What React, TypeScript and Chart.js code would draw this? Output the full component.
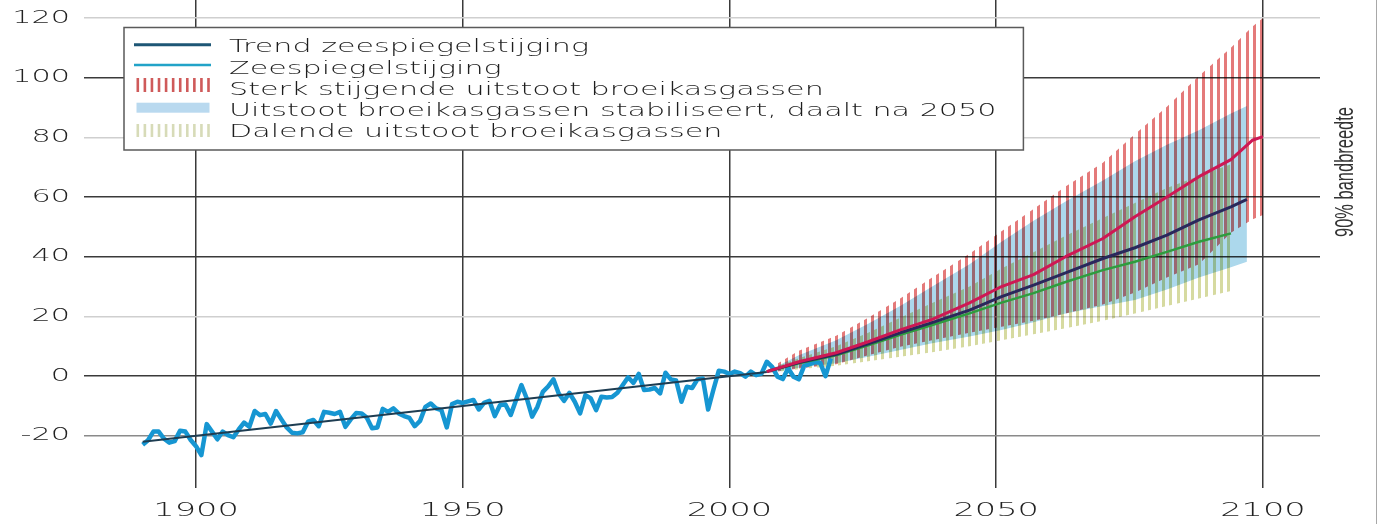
import React, { useEffect, useRef } from 'react';
import { Chart, registerables } from 'chart.js';

// ---------- data ----------
const xTickValues = [1900, 1950, 2000, 2050, 2100];
const yTickValues = [-20, 0, 20, 40, 60, 80, 100, 120];

const obsYears = [
  1890, 1891, 1892, 1893, 1894, 1895, 1896, 1897, 1898, 1899,
  1900, 1901, 1902, 1903, 1904, 1905, 1906, 1907, 1908, 1909,
  1910, 1911, 1912, 1913, 1914, 1915, 1916, 1917, 1918, 1919,
  1920, 1921, 1922, 1923, 1924, 1925, 1926, 1927, 1928, 1929,
  1930, 1931, 1932, 1933, 1934, 1935, 1936, 1937, 1938, 1939,
  1940, 1941, 1942, 1943, 1944, 1945, 1946, 1947, 1948, 1949,
  1950, 1951, 1952, 1953, 1954, 1955, 1956, 1957, 1958, 1959,
  1960, 1961, 1962, 1963, 1964, 1965, 1966, 1967, 1968, 1969,
  1970, 1971, 1972, 1973, 1974, 1975, 1976, 1977, 1978, 1979,
  1980, 1981, 1982, 1983, 1984, 1985, 1986, 1987, 1988, 1989,
  1990, 1991, 1992, 1993, 1994, 1995, 1996, 1997, 1998, 1999,
  2000, 2001, 2002, 2003, 2004, 2005, 2006, 2007, 2008, 2009,
  2010, 2011, 2012, 2013, 2014, 2015, 2016, 2017, 2018, 2019,
];
const obsValues = [
  -23, -21.5, -18.6, -18.6, -21, -22.3, -21.8, -18.3, -18.6, -21.4,
  -23.5, -26.5, -16.1, -18.6, -21.2, -18.6, -19.8, -20.5, -17.9, -15.6,
  -17, -11.7, -13.1, -12.7, -15.9, -11.7, -14.5, -17.2, -19, -19.2,
  -18.8, -15.3, -14.7, -16.8, -12, -12.3, -12.7, -12, -17, -14.5,
  -12.4, -12.5, -13.9, -17.5, -17.2, -11, -12, -10.8, -12.5, -13.4,
  -14, -16.8, -15, -10.3, -9.2, -10.8, -11.4, -17.2, -9.4, -8.6,
  -9, -8.5, -8, -11.2, -9, -8.3, -13.4, -9.7, -9.5, -13,
  -8, -3, -7.5, -13.6, -10.3, -5.3, -3.5, -1.1, -5.9, -8.3,
  -5.6, -8.6, -12.5, -6.4, -7.5, -11.4, -6.9, -7.2, -7, -5.6,
  -3, -0.4, -2.3, 0.7, -4.7, -4.5, -4, -5.8, 1.1, -1.1,
  -1.5, -8.6, -3.6, -4, -1.1, -0.8, -11.2, -4.5, 1.8, 1.5,
  0.7, 1.5, 1.0, -0.2, 1.5, 0.3, 0.8, 4.8, 3.1, -0.2,
  -1.0, 2.6, -0.2, -1.1, 3.4, 4.0, 4.7, 4.5, 0, 5.9,
];

const trendYears = [1890, 2007];
const trendValues = [-22, 1.4];

// Sterk stijgende uitstoot (high scenario)
const highYears = [2007, 2013, 2020, 2026, 2032, 2038, 2045, 2051, 2057, 2063, 2070, 2076, 2082, 2088, 2094, 2098, 2100];
const highMid = [1.5, 4.8, 7.8, 11.5, 15.5, 19, 24.5, 30, 34, 40, 46.1, 53.4, 60, 66.8, 72.5, 79, 80.2];
const highUpper = [2, 8.5, 13.5, 19.5, 26, 33, 41, 48.5, 56, 63.5, 71.5, 81, 90.2, 100.5, 110, 117, 120];
const highLower = [1, 2.5, 4, 7, 9.8, 12, 14.5, 16.5, 18.5, 21, 24, 28, 33, 37.5, 48, 52.5, 54];

// Uitstoot stabiliseert (middle scenario)
const midYears = [2007, 2013, 2020, 2026, 2032, 2038, 2045, 2051, 2057, 2063, 2070, 2076, 2082, 2088, 2094, 2097];
const midMid = [1.5, 4.5, 7.3, 10.8, 14.5, 17.9, 22.1, 26.6, 30.5, 34.6, 39.4, 43, 47.2, 52.3, 56.7, 59.2];
const midUpper = [1.5, 7, 12, 17.5, 23.5, 30, 37.5, 45, 52, 58.5, 65.5, 72, 77.5, 82.4, 88, 90.5];
const midLower = [1, 2.8, 4.3, 6.5, 8.7, 11, 13.3, 15.4, 18, 21, 23.5, 25.5, 29, 33, 36.5, 38.3];

// Dalende uitstoot (low scenario)
const lowYears = [2007, 2013, 2020, 2026, 2032, 2038, 2045, 2051, 2057, 2063, 2070, 2076, 2082, 2088, 2094];
const lowMid = [1.5, 4.3, 7, 10.3, 13.8, 17.1, 21, 24.6, 27.8, 31.5, 35.5, 38.3, 41.6, 45, 47.8];
const lowUpper = [2, 6, 10, 14.5, 19.5, 24.5, 30, 36, 41.5, 47, 53, 58, 63, 67, 71];
const lowLower = [1, 2.3, 3.5, 5, 6.5, 8, 10, 12, 14, 16, 18.5, 21, 23.5, 26, 28.5];

const legendLabels = [
  'Trend zeespiegelstijging',
  'Zeespiegelstijging',
  'Sterk stijgende uitstoot broeikasgassen',
  'Uitstoot broeikasgassen stabiliseert, daalt na 2050',
  'Dalende uitstoot broeikasgassen',
];
const sideLabel = '90% bandbreedte';

// ---------- helpers ----------
const pts = (xs: number[], ys: number[]) => xs.map((x, i) => ({ x, y: ys[i] }));

const TICK_STRETCH = 1.68;
const TEXT_FONT = '"DejaVu Sans"';

const blendPlugin = {
  id: 'blendMode',
  beforeDatasetDraw(chart: any, args: any) {
    const ds = chart.data.datasets[args.index];
    if (ds && ds.blend) chart.ctx.globalCompositeOperation = ds.blend;
  },
  afterDatasetDraw(chart: any) {
    chart.ctx.globalCompositeOperation = 'source-over';
  },
};

Chart.register(blendPlugin);
Chart.register(...registerables);

function makeStripes(ctx: CanvasRenderingContext2D, color: string, offset: number, w: number) {
  const c = document.createElement('canvas');
  c.width = 36;
  c.height = 8;
  const g = c.getContext('2d')!;
  g.fillStyle = color;
  [0, 7, 14, 22, 29].forEach((p) => {
    const x = (p + offset) % 36;
    g.fillRect(x, 0, w, 8);
    if (x + w > 36) g.fillRect(x - 36, 0, w, 8);
  });
  return ctx.createPattern(c, 'repeat')!;
}

const gridShade: Record<number, string> = {
  120: '#cfcfcf', 100: '#3a3a3a', 80: '#cfcfcf', 60: '#3a3a3a',
  40: '#3a3a3a', 20: '#cfcfcf', 0: '#3a3a3a', [-20]: '#8a8a8a',
};

const overlayPlugin = {
  id: 'overlay',
  afterDraw(chart: any) {
    const ctx = chart.ctx as any;
    ctx.save();
    ctx.globalCompositeOperation = 'source-over';
    // legend
    ctx.font = `200 17px ${TEXT_FONT}`;
    ctx.__sx = 1;
    const stretch = 360 / ctx.measureText(legendLabels[0]).width;
    const maxW = Math.max(...legendLabels.map((l) => ctx.measureText(l).width)) * stretch;
    const L = 124, T = 27.5, B = 150;
    const textX = 229;
    const R = textX + maxW + 27;
    ctx.fillStyle = '#ffffff';
    ctx.fillRect(L, T, R - L, B - T);
    ctx.strokeStyle = '#5a5a5a';
    ctx.lineWidth = 1.5;
    ctx.strokeRect(L, T, R - L, B - T);

    const baselines = [52, 73.5, 95, 116, 137.3];
    // samples
    ctx.lineCap = 'butt';
    ctx.strokeStyle = '#1d5675';
    ctx.lineWidth = 3;
    ctx.beginPath(); ctx.moveTo(134, 44.7); ctx.lineTo(211, 44.7); ctx.stroke();
    ctx.strokeStyle = '#22a3c8';
    ctx.lineWidth = 2.5;
    ctx.beginPath(); ctx.moveTo(134, 65); ctx.lineTo(211, 65); ctx.stroke();
    ctx.fillStyle = '#cf5a5a';
    for (let i = 0; i < 11; i++) ctx.fillRect(136.5 + i * 7.07, 78, 2.6, 14);
    ctx.fillStyle = '#b9d9ef';
    ctx.fillRect(136.5, 102.7, 73, 10);
    ctx.fillStyle = '#d7dbb8';
    for (let i = 0; i < 11; i++) ctx.fillRect(136.5 + i * 7.07, 124, 2.6, 13);

    ctx.fillStyle = '#1e1e1e';
    ctx.textAlign = 'left';
    ctx.textBaseline = 'alphabetic';
    ctx.__sx = stretch;
    legendLabels.forEach((l, i) => ctx.fillText(l, textX, baselines[i]));

    // side label
    ctx.__sx = 1;
    ctx.font = '26px "Liberation Sans"';
    const sw = ctx.measureText(sideLabel).width;
    ctx.translate(1353, 172);
    ctx.rotate(-Math.PI / 2);
    ctx.scale(130 / sw, 1);
    ctx.textAlign = 'center';
    ctx.fillStyle = '#333';
    ctx.fillText(sideLabel, 0, 0);
    ctx.restore();

    // frame line at the right edge
    ctx.save();
    ctx.strokeStyle = '#a8a8a8';
    ctx.lineWidth = 1;
    ctx.beginPath(); ctx.moveTo(1376.5, 0); ctx.lineTo(1376.5, 524); ctx.stroke();
    ctx.restore();
    ctx.__sx = TICK_STRETCH;
  },
};

export default function App() {
  const ref = useRef<HTMLCanvasElement>(null);

  useEffect(() => {
    const canvas = ref.current!;
    const ctx = canvas.getContext('2d')! as any;
    if (!ctx.__patched) {
      const rawFill = ctx.fillText.bind(ctx);
      ctx.fillText = (t: string, x: number, y: number, mw?: number) => {
        const s = ctx.__sx ?? 1;
        if (s === 1) {
          if (mw === undefined) rawFill(t, x, y); else rawFill(t, x, y, mw);
          return;
        }
        ctx.save();
        ctx.translate(x, y);
        ctx.scale(s, 1);
        rawFill(t, 0, 0);
        ctx.restore();
      };
      ctx.__patched = true;
    }
    ctx.__sx = TICK_STRETCH;

    const redPattern = makeStripes(ctx, 'rgb(228,122,122)', 0, 3);
    const greenPattern = makeStripes(ctx, 'rgb(214,218,160)', 3, 3);

    const lineBase = { pointRadius: 0, tension: 0, fill: false, borderJoinStyle: 'round' as const };
    const bandBase = { pointRadius: 0, tension: 0, borderWidth: 0, borderColor: 'rgba(0,0,0,0)' };

    const chart = new Chart(ctx, {
      type: 'line',
      data: {
        datasets: [
          { ...lineBase, label: 'Sterk stijgend', data: pts(highYears, highMid), borderColor: 'rgb(206,24,84)', borderWidth: 3, order: 1 },
          { ...lineBase, label: 'Stabiliseert', data: pts(midYears, midMid), borderColor: 'rgb(42,40,92)', borderWidth: 3, order: 2 },
          { ...lineBase, label: 'Dalend', data: pts(lowYears, lowMid), borderColor: 'rgb(46,156,62)', borderWidth: 2.5, order: 3 },
          { ...lineBase, label: legendLabels[0], data: pts(trendYears, trendValues), borderColor: '#1e3d52', borderWidth: 2, order: 4 },
          { ...lineBase, label: legendLabels[1], data: pts(obsYears, obsValues), borderColor: 'rgb(22,150,210)', borderWidth: 4.5, order: 5 },
          { ...bandBase, label: 'high upper', data: pts(highYears, highUpper), fill: 6, backgroundColor: redPattern, blend: 'multiply', order: 8 } as any,
          { ...bandBase, label: 'high lower', data: pts(highYears, highLower), fill: false, order: 8 },
          { ...bandBase, label: 'mid upper', data: pts(midYears, midUpper), fill: 8, backgroundColor: 'rgb(172,216,236)', blend: 'multiply', order: 9 } as any,
          { ...bandBase, label: 'mid lower', data: pts(midYears, midLower), fill: false, order: 9 },
          { ...bandBase, label: 'low upper', data: pts(lowYears, lowUpper), fill: 10, backgroundColor: greenPattern, blend: 'multiply', order: 10 } as any,
          { ...bandBase, label: 'low lower', data: pts(lowYears, lowLower), fill: false, order: 10 },
        ],
      },
      options: {
        responsive: false,
        animation: false,
        devicePixelRatio: 1,
        layout: { padding: { left: 0, right: 61, top: 0, bottom: 0 } },
        plugins: {
          legend: { display: false },
          tooltip: { enabled: false },
          filler: { propagate: false },
        },
        scales: {
          x: {
            type: 'linear',
            min: 1879,
            max: 2110.7,
            afterBuildTicks: (s: any) => { s.ticks = xTickValues.map((v) => ({ value: v })); },
            afterFit: (s: any) => { s.height = 36; s.paddingLeft = 0; s.paddingRight = 0; },
            grid: { color: '#3a3a3a', lineWidth: 1.5, drawTicks: false },
            border: { display: false },
            ticks: {
              padding: 11,
              autoSkip: false,
              maxRotation: 0,
              color: '#222',
              font: { family: TEXT_FONT, size: 20, weight: '200' },
              callback: (v: any) => String(v),
            },
          },
          y: {
            type: 'linear',
            min: -37.5,
            max: 126,
            afterBuildTicks: (s: any) => { s.ticks = yTickValues.map((v) => ({ value: v })); },
            afterFit: (s: any) => { s.width = 84; s.paddingTop = 0; s.paddingBottom = 0; },
            grid: {
              color: (c: any) => gridShade[c.tick?.value] ?? '#cfcfcf',
              lineWidth: 1.5,
              drawTicks: false,
            },
            border: { display: false },
            ticks: {
              padding: 14,
              color: '#222',
              font: { family: TEXT_FONT, size: 18, weight: '200' },
              callback: (v: any) => String(v),
            },
          },
        },
      },
      plugins: [overlayPlugin],
    } as any);

    return () => chart.destroy();
  }, []);

  return (
    <div style={{ position: 'absolute', left: 0, top: 0, width: 1381, height: 524, background: '#fff' }}>
      <canvas ref={ref} width={1381} height={524} style={{ display: 'block' }} />
    </div>
  );
}
